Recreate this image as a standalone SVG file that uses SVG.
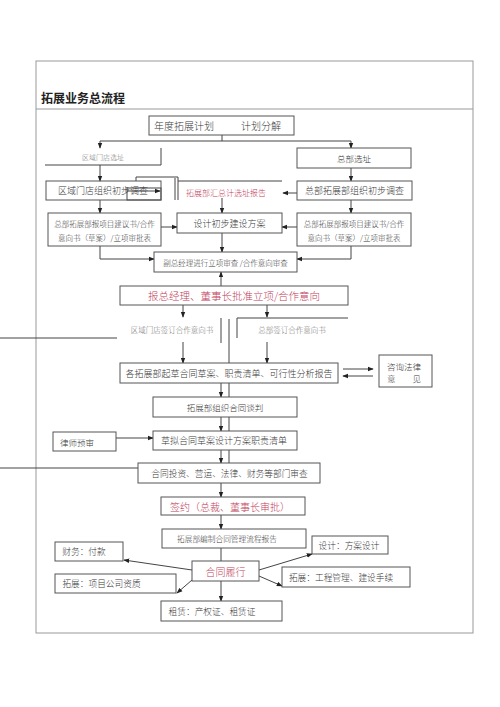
<svg xmlns="http://www.w3.org/2000/svg" width="500" height="707" viewBox="0 0 500 707">
<defs>
<style>
text{font-family:"Noto Sans CJK SC","Noto Sans",sans-serif;fill:#3a3a3a;text-anchor:middle;dominant-baseline:central;font-weight:300}
.b{fill:#fff;stroke:#555;stroke-width:1}
.c{stroke:#444;stroke-width:1;fill:none}
.r{fill:#c0405a}
.f{fill:#777}
</style>
<marker id="a" viewBox="0 0 8 8" refX="7" refY="4" markerWidth="6" markerHeight="6" orient="auto"><path d="M0,1 L8,4 L0,7 z" fill="#222"/></marker>
</defs>
<rect width="500" height="707" fill="#fff"/>
<rect x="36" y="61" width="437" height="572" fill="none" stroke="#999" stroke-width="1"/>
<line x1="36" y1="109" x2="473" y2="109" stroke="#999"/>
<text x="41" y="97" style="text-anchor:start;font-size:12px;font-weight:bold;fill:#222">拓展业务总流程</text>

<g id="connectors">
<polyline class="c" points="222,135 222,141"/>
<line class="c" x1="100" y1="141" x2="351" y2="141"/>
<line class="c" x1="100" y1="141" x2="100" y2="148" marker-end="url(#a)"/>
<line class="c" x1="351" y1="141" x2="351" y2="148" marker-end="url(#a)"/>
<polyline class="c" points="45,165 161,165 161,148"/>
<line class="c" x1="100" y1="165" x2="100" y2="181" marker-end="url(#a)"/>
<line class="c" x1="351" y1="168" x2="351" y2="181" marker-end="url(#a)"/>
<polyline class="c" points="136,181 136,177 178,177 178,200"/>
<line class="c" x1="175" y1="178" x2="175" y2="200"/>
<line class="c" x1="178" y1="181" x2="282" y2="181"/>
<rect class="c" x="127" y="188" width="34" height="12"/>
<line class="c" x1="127" y1="191" x2="160" y2="191" marker-end="url(#a)"/>
<line class="c" x1="297" y1="193" x2="283" y2="193" marker-end="url(#a)"/>
<line class="c" x1="100" y1="200" x2="100" y2="213" marker-end="url(#a)"/>
<line class="c" x1="351" y1="200" x2="351" y2="213" marker-end="url(#a)"/>
<line class="c" x1="222" y1="198" x2="222" y2="213" marker-end="url(#a)"/>
<line class="c" x1="161" y1="227" x2="177" y2="227" marker-end="url(#a)"/>
<line class="c" x1="297" y1="227" x2="282" y2="227" marker-end="url(#a)"/>
<line class="c" x1="222" y1="233" x2="222" y2="252" marker-end="url(#a)"/>
<polyline class="c" points="100,246 100,259 154,259" marker-end="url(#a)"/>
<polyline class="c" points="351,246 351,259 297,259" marker-end="url(#a)"/>
<line class="c" x1="221" y1="286" x2="221" y2="272" marker-end="url(#a)"/>
<line class="c" x1="183" y1="305" x2="183" y2="317" marker-end="url(#a)"/>
<line class="c" x1="267" y1="305" x2="267" y2="317" marker-end="url(#a)"/>
<polyline class="c" points="348,318 237,318 237,338"/>
<line class="c" x1="221" y1="318" x2="221" y2="343"/>
<line class="c" x1="229" y1="319" x2="229" y2="463"/>
<line class="c" x1="0" y1="338" x2="117" y2="338"/>
<line class="c" x1="183" y1="342" x2="183" y2="363" marker-end="url(#a)"/>
<line class="c" x1="267" y1="342" x2="267" y2="363" marker-end="url(#a)"/>
<line class="c" x1="343" y1="369" x2="373" y2="369" marker-end="url(#a)"/>
<line class="c" x1="373" y1="376" x2="343" y2="376" marker-end="url(#a)"/>
<line class="c" x1="221" y1="383" x2="221" y2="397" marker-end="url(#a)"/>
<line class="c" x1="221" y1="417" x2="221" y2="431" marker-end="url(#a)"/>
<line class="c" x1="116" y1="438" x2="153" y2="438" marker-end="url(#a)"/>
<line class="c" x1="221" y1="450" x2="221" y2="463" marker-end="url(#a)"/>
<line class="c" x1="0" y1="468" x2="138" y2="468"/>
<line class="c" x1="221" y1="483" x2="221" y2="497" marker-end="url(#a)"/>
<line class="c" x1="221" y1="515" x2="221" y2="529" marker-end="url(#a)"/>
<line class="c" x1="221" y1="548" x2="221" y2="561"/>
<line class="c" x1="192" y1="570" x2="124" y2="560" marker-end="url(#a)"/>
<line class="c" x1="259" y1="570" x2="312" y2="554" marker-end="url(#a)"/>
<line class="c" x1="259" y1="576" x2="282" y2="586" marker-end="url(#a)"/>
<line class="c" x1="192" y1="580" x2="177" y2="593" marker-end="url(#a)"/>
<line class="c" x1="221" y1="581" x2="221" y2="601" marker-end="url(#a)"/>
</g>

<g id="n1"><rect class="b" x="149" y="116" width="145" height="19"/><text x="184" y="125.5" style="font-size:10px">年度拓展计划</text><text x="261" y="125.5" style="font-size:10px">计划分解</text></g>
<g id="n2"><text x="103" y="157" class="f" style="font-size:7px">区域门店选址</text></g>
<g id="n3"><rect class="b" x="297" y="148" width="114" height="20"/><text x="354" y="158" style="font-size:8.5px">总部选址</text></g>
<g id="n4"><rect class="b" x="46" y="181" width="115" height="19" style="fill:none"/><text x="103" y="190.5" style="font-size:9px">区域门店组织初步调查</text></g>
<g id="n5"><text x="226" y="192" class="r" style="font-size:8px">拓展部汇总计选址报告</text></g>
<g id="n6"><rect class="b" x="297" y="181" width="115" height="19"/><text x="354.5" y="190.5" style="font-size:9px">总部拓展部组织初步调查</text></g>
<g id="n7"><rect class="b" x="48" y="213" width="113" height="33"/><text x="104.5" y="223" style="font-size:7.5px">总部拓展部报项目建议书/合作</text><text x="104.5" y="237" style="font-size:7.5px">意向书（草案）/立项审批表</text></g>
<g id="n8"><rect class="b" x="177" y="213" width="105" height="20"/><text x="229.5" y="223" style="font-size:9px">设计初步建设方案</text></g>
<g id="n9"><rect class="b" x="297" y="213" width="114" height="33"/><text x="354" y="223" style="font-size:7.5px">总部拓展部报项目建议书/合作</text><text x="354" y="237" style="font-size:7.5px">意向书（草案）/立项审批表</text></g>
<g id="n10"><rect class="b" x="154" y="252" width="143" height="20"/><text x="225.5" y="262" style="font-size:7.5px">副总经理进行立项审查 /合作意向审查</text></g>
<g id="n11"><rect class="b" x="120" y="286" width="228" height="19"/><text x="234" y="295.5" class="r" style="font-size:10.5px">报总经理、董事长批准立项/合作意向</text></g>
<g id="n12"><text x="172" y="329" class="f" style="font-size:7.5px">区域门店签订合作意向书</text></g>
<g id="n13"><text x="292" y="329" class="f" style="font-size:7.5px">总部签订合作意向书</text></g>
<g id="n14"><rect class="b" x="120" y="363" width="218" height="20"/><text x="229" y="373" style="font-size:9px">各拓展部起草合同草案、职责清单、可行性分析报告</text></g>
<g id="n15"><rect class="b" x="379" y="355" width="53" height="32"/><text x="404" y="366" style="font-size:8.5px">咨询法律</text><text x="404" y="378" style="font-size:8.5px">意　　见</text></g>
<g id="n16"><rect class="b" x="153" y="397" width="144" height="20"/><text x="225" y="407" style="font-size:8.5px">拓展部组织合同谈判</text></g>
<g id="n17"><rect class="b" x="53" y="432" width="63" height="19"/><text x="77" y="441.5" style="font-size:8.5px">律师预审</text></g>
<g id="n18"><rect class="b" x="153" y="431" width="144" height="19"/><text x="224" y="440.5" style="font-size:9px">草拟合同草案设计方案职责清单</text></g>
<g id="n19"><rect class="b" x="138" y="463" width="182" height="20"/><text x="229.5" y="473" style="font-size:8.7px">合同投资、营运、法律、财务等部门审查</text></g>
<g id="n20"><rect class="b" x="161" y="497" width="144" height="18"/><text x="230" y="506" class="r" style="font-size:10px">签约（总裁、董事长审批）</text></g>
<g id="n21"><rect class="b" x="162" y="529" width="144" height="19"/><text x="227" y="538.5" style="font-size:7.7px">拓展部编制合同管理流程报告</text></g>
<g id="n22"><rect class="b" x="55" y="542" width="68" height="19"/><text x="84" y="551.5" style="font-size:8.7px">财务：付款</text></g>
<g id="n23"><rect class="b" x="312" y="536" width="76" height="18"/><text x="349" y="545" style="font-size:8.7px">设计：方案设计</text></g>
<g id="n24"><rect class="b" x="192" y="561" width="67" height="20"/><text x="225.5" y="571" class="r" style="font-size:10px">合同履行</text></g>
<g id="n25"><rect class="b" x="282" y="567" width="128" height="20"/><text x="341" y="577" style="font-size:8.7px">拓展：工程管理、建设手续</text></g>
<g id="n26"><rect class="b" x="55" y="574" width="121" height="19"/><text x="101.5" y="583.5" style="font-size:8.7px">拓展：项目公司资质</text></g>
<g id="n27"><rect class="b" x="161" y="601" width="121" height="20"/><text x="212" y="611" style="font-size:8.7px">租赁：产权证、租赁证</text></g>
</svg>
